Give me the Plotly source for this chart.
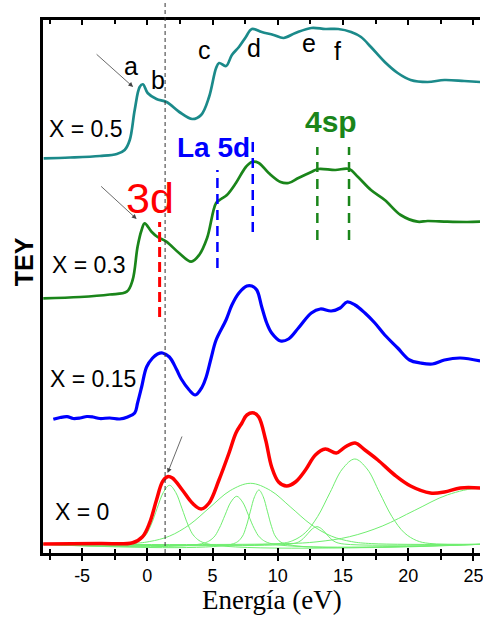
import plotly.graph_objects as go

# ---------------- data (energy in eV, TEY in arbitrary units, stacked) ----------------
x05_E = [-7.95, -5.92, -3.64, -2.34, -1.74, -1.35, -0.97, -0.59, -0.34, 0.02, 0.70, 1.47, 2.45, 3.44, 4.12,
         4.73, 5.27, 5.50, 6.03, 6.48, 7.02, 7.55, 8.01, 8.77, 9.68, 10.44, 11.35, 12.57, 13.64, 14.63,
         15.62, 16.38, 17.14, 18.20, 19.19, 20.18, 21.48, 22.77, 24.29, 25.51]
x05_I = [394.7, 395.5, 397, 399, 403, 413, 443, 466, 468.7, 460, 454, 451, 441, 434, 438,
         456, 485, 490, 487, 498, 506, 516, 524, 521, 518, 515, 520, 525, 524, 524,
         521, 516, 506, 491, 480, 473, 471, 473, 472, 471]

x03_E = [-7.98, -5.16, -2.88, -1.58, -1.13, -0.75, -0.44, -0.21, 0.32, 0.78, 1.46, 2.45, 3.36, 3.97, 4.58,
         5.27, 5.65, 6.10, 6.79, 7.55, 8.01, 8.54, 9.30, 10.21, 10.82, 11.58, 12.57, 13.10, 14.40, 15.46,
         16.15, 17.14, 18.20, 19.42, 20.72, 21.48, 23.00, 24.52, 25.51]
x03_I = [254.7, 256, 258.5, 261.3, 273, 306.3, 323, 329.7, 321.3, 316, 311.3, 299.7, 291.3, 298, 315,
         350, 354, 358, 370, 386, 391, 390, 380, 371, 370, 375, 381, 384, 383, 384,
         376, 363, 353, 338, 331.3, 332, 331.3, 331, 331.3]

x015_E = [-7.21, -6.68, -6.15, -5.69, -5.16, -4.63, -4.17, -3.64, -2.88, -2.12, -1.51, -0.97, -0.75, -0.44,
          -0.06, 0.40, 0.78, 1.16, 1.69, 2.22, 2.60, 3.21, 3.67, 4.20, 4.51, 4.89, 5.27, 6.03, 6.48, 7.02,
          7.63, 8.01, 8.39, 8.77, 9.15, 9.53, 10.21, 10.82, 11.58, 12.57, 13.26, 14.09, 14.78, 15.31, 15.92,
          16.68, 17.44, 18.20, 19.19, 20.10, 20.94, 21.85, 22.77, 23.99, 25.51]
x015_I = [133.7, 135.5, 136.3, 134.5, 135, 136.5, 136, 134.5, 135, 134, 136, 140, 150, 166,
          186, 195, 199, 200, 196, 184, 174, 163, 158, 166, 176, 195, 213, 233, 248, 260,
          267, 267, 263, 246, 230, 220, 212, 214, 225, 240, 244, 242, 245, 251, 248,
          240, 230, 218, 205, 193, 190, 189, 193, 195, 192]

x0_E = [-7.98, -3.64, -1.13, -0.37, 0.17, 0.70, 1.16, 1.54, 1.92, 2.68, 3.44, 4.12, 4.73, 5.49, 6.26,
        6.79, 7.25, 7.63, 8.16, 8.54, 9.07, 9.53, 10.06, 10.67, 11.35, 12.12, 12.88, 13.64, 14.48, 15.16,
        15.92, 16.68, 17.67, 18.96, 20.18, 21.70, 22.77, 23.99, 25.51]
x0_I = [9, 9.5, 10.3, 16.3, 30, 53, 71.3, 76.3, 75, 63, 50, 44, 50, 73, 100,
        120, 130, 138, 140, 136, 113, 86, 71, 67, 71, 83, 98, 104, 100, 106,
        110, 103, 93, 78, 67, 60, 61, 65, 65]

# fitted components of the X = 0 spectrum
c1_E = [-8, -1.15, -0.2, 0.275, 0.75, 1.225, 1.70, 2.175, 2.65, 3.125, 3.6, 4.55, 25.6]
c1_I = [8.7, 9.35, 16.7, 27.9, 44.7, 60.6, 67.7, 60.6, 44.7, 27.9, 16.7, 9.35, 8.7]
c2_E = [-8, 4.15, 5.05, 5.5, 5.95, 6.4, 6.85, 7.3, 7.75, 8.2, 8.65, 9.55, 25.6]
c2_I = [8.7, 9.2, 15.2, 24.3, 37.8, 50.9, 56.7, 50.9, 37.8, 24.3, 15.2, 9.2, 8.7]
c3_E = [-8, 6.6, 7.25, 7.575, 7.9, 8.225, 8.55, 8.875, 9.2, 9.525, 9.85, 10.5, 25.6]
c3_I = [8.7, 9.3, 16.0, 26.3, 41.8, 56.5, 63, 56.5, 41.8, 26.3, 16.0, 9.3, 8.7]
c4_E = [-8, -1.4, 0.15, 1.7, 3.25, 4.8, 6.35, 7.9, 9.45, 11.0, 12.55, 14.1, 15.65, 17.2, 25.6]
c4_I = [8.7, 9.4, 11.4, 16.9, 28.5, 45.7, 62.4, 69.7, 62.4, 45.7, 28.5, 16.9, 11.4, 9.4, 8.7]
c5_E = [-8, 10.9, 11.6, 11.95, 12.3, 12.65, 13.0, 13.35, 13.7, 14.05, 14.4, 15.1, 25.6]
c5_I = [8.7, 8.9, 11.1, 14.4, 19.4, 24.2, 26.3, 24.2, 19.4, 14.4, 11.1, 8.9, 8.7]
c6_E = [-8, 10.2, 11.15, 12.1, 13.05, 14.0, 14.95, 15.9, 16.85, 17.8, 18.75, 19.7, 20.65, 21.6, 25.6]
c6_I = [8.7, 9.6, 12.4, 20.2, 36.4, 60.4, 84, 94, 84, 60.4, 36.4, 20.2, 12.4, 9.6, 8.7]
c7_E = [-8, 10.5, 13.0, 15.5, 18.0, 20.5, 23.0, 25.5, 28.0]
c7_I = [8.7, 9.3, 11.2, 16.3, 26.9, 42.7, 58.1, 64.7, 58.1]

components = [(c1_E, c1_I), (c2_E, c2_I), (c3_E, c3_I), (c4_E, c4_I),
              (c5_E, c5_I), (c6_E, c6_I), (c7_E, c7_I)]

# marker positions (eV) and their vertical extents
ref_line_E = 1.36
mark_3d_E = [0.94]
mark_3d_I = (236, 331)
mark_la5d_E = [5.37, 8.08]
mark_la5d_I = [(285, 383), (321, 415)]
mark_4sp_E = [13.03, 15.46]
mark_4sp_I = (313, 406)

x_ticks = [-5, 0, 5, 10, 15, 20, 25]
x_tick_text = ["-5", "0", "5", "10", "15", "20", "25"]
x_minor = [-7.5, -2.5, 2.5, 7.5, 12.5, 17.5, 22.5]

# ---------------- figure ----------------
TEAL = "#1b8a8a"
GREEN = "#1a851a"
BLUE = "#0000ff"
RED = "#ff0000"
LGREEN = "#70ee70"
SANS = "Liberation Sans, Arial, sans-serif"

fig = go.Figure()

for cE, cI in components:
    fig.add_trace(go.Scatter(x=cE, y=cI, mode="lines", line=dict(color=LGREEN, width=1, shape="spline"),
                             hoverinfo="skip", showlegend=False))

fig.add_trace(go.Scatter(x=x05_E, y=x05_I, mode="lines", line=dict(color=TEAL, width=2.7, shape="spline"),
                         showlegend=False))
fig.add_trace(go.Scatter(x=x03_E, y=x03_I, mode="lines", line=dict(color=GREEN, width=2.7, shape="spline"),
                         showlegend=False))
fig.add_trace(go.Scatter(x=x015_E, y=x015_I, mode="lines", line=dict(color=BLUE, width=3.2, shape="spline"),
                         showlegend=False))
fig.add_trace(go.Scatter(x=x0_E, y=x0_I, mode="lines", line=dict(color=RED, width=3.5, shape="spline"),
                         showlegend=False))

# dashed marker lines
for e in mark_3d_E:
    fig.add_trace(go.Scatter(x=[e, e], y=list(mark_3d_I), mode="lines",
                             line=dict(color=RED, width=3, dash="10px,5px"), showlegend=False))
for e, rng in zip(mark_la5d_E, mark_la5d_I):
    fig.add_trace(go.Scatter(x=[e, e], y=list(rng), mode="lines",
                             line=dict(color=BLUE, width=2.5, dash="10px,6px"), showlegend=False))
for e in mark_4sp_E:
    fig.add_trace(go.Scatter(x=[e, e], y=list(mark_4sp_I), mode="lines",
                             line=dict(color=GREEN, width=2.5, dash="10px,7px"), showlegend=False))

# thin black dashed reference line (extends above plot)
fig.add_shape(type="line", xref="x", yref="paper", x0=ref_line_E, x1=ref_line_E, y0=0, y1=553 / 533,
              line=dict(color="#333333", width=1, dash="4px,3px"), layer="above")

ann = []
def txt(x, y, s, size, color="black", bold=False, xanchor="center", family=SANS):
    ann.append(dict(x=x, y=y, xref="x", yref="y", text=("<b>%s</b>" % s) if bold else s, showarrow=False,
                    font=dict(size=size, color=color, family=family), xanchor=xanchor, yanchor="middle"))

txt(-7.67, 424.3, "X = 0.5", 23, xanchor="left")
txt(-7.44, 288, "X = 0.3", 23, xanchor="left")
txt(-7.6, 174, "X = 0.15", 23, xanchor="left")
txt(-7.21, 41, "X = 0", 23, xanchor="left")
txt(-1.23, 487.4, "a", 25)
txt(0.85, 473.4, "b", 25)
txt(4.35, 503.4, "c", 25)
txt(8.16, 505, "d", 25)
txt(12.4, 510, "e", 25)
txt(14.55, 501.7, "f", 25)
txt(0.22, 355, "3d", 43, color=RED)
txt(5.08, 405.8, "La 5d", 28, color=BLUE, bold=True)
txt(14.06, 431.5, "4sp", 30, color=GREEN, bold=True)

# arrows (head at data point, tail offset in pixels)
for hx, hy, ax, ay in [(-1.09, 466, -38, -34), (-0.82, 334, -37, -34), (1.55, 80, 15, -38)]:
    ann.append(dict(x=hx, y=hy, xref="x", yref="y", ax=ax, ay=ay, text="", showarrow=True,
                    arrowhead=2, arrowsize=1.2, arrowwidth=0.8, arrowcolor="#444444"))

ann.append(dict(x=-0.043, y=0.546, xref="paper", yref="paper", text="<b>TEY</b>", showarrow=False,
                textangle=-90, font=dict(size=25, family=SANS, color="black"), xanchor="center", yanchor="middle"))
ann.append(dict(x=0.523, y=-0.089, xref="paper", yref="paper", text="Energía (eV)", showarrow=False,
                font=dict(size=27, family="Liberation Serif, Times New Roman, serif", color="black"),
                xanchor="center", yanchor="middle"))

XR = [-8, 25.5]
fig.update_layout(
    width=483, height=617, autosize=False,
    margin=dict(l=43, r=0, t=20, b=64),
    paper_bgcolor="white", plot_bgcolor="white",
    annotations=ann,
    xaxis=dict(range=XR, showgrid=False, zeroline=False, showline=True, linecolor="black", linewidth=2.5,
               ticks="outside", ticklen=5, tickwidth=2, tickcolor="black",
               tickmode="array", tickvals=x_ticks, ticktext=x_tick_text,
               minor=dict(tickvals=x_minor, ticks="outside", ticklen=4, tickwidth=2, tickcolor="black"),
               tickfont=dict(size=18, family=SANS, color="black"), ticklabelstandoff=0,
               ticklabeloverflow="allow"),
    xaxis2=dict(range=XR, overlaying="x", anchor="y", side="bottom", showgrid=False, zeroline=False,
                showline=True, linecolor="black", linewidth=2.5, mirror="ticks",
                ticks="inside", ticklen=5, tickwidth=2, tickcolor="black", tickmode="array", tickvals=x_ticks,
                minor=dict(tickvals=x_minor, ticks="inside", ticklen=4, tickwidth=2, tickcolor="black"),
                showticklabels=False),
    yaxis=dict(range=[0, 533], showgrid=False, zeroline=False, showline=True, linecolor="black",
               linewidth=2.5, ticks="", showticklabels=False),
)
# dummy trace to activate xaxis2
fig.add_trace(go.Scatter(x=[None], y=[None], xaxis="x2", showlegend=False, hoverinfo="skip"))

fig.write_html("out.html", config={"displayModeBar": False},
               post_script="document.body.style.margin='0px';document.body.style.overflow='hidden';")
